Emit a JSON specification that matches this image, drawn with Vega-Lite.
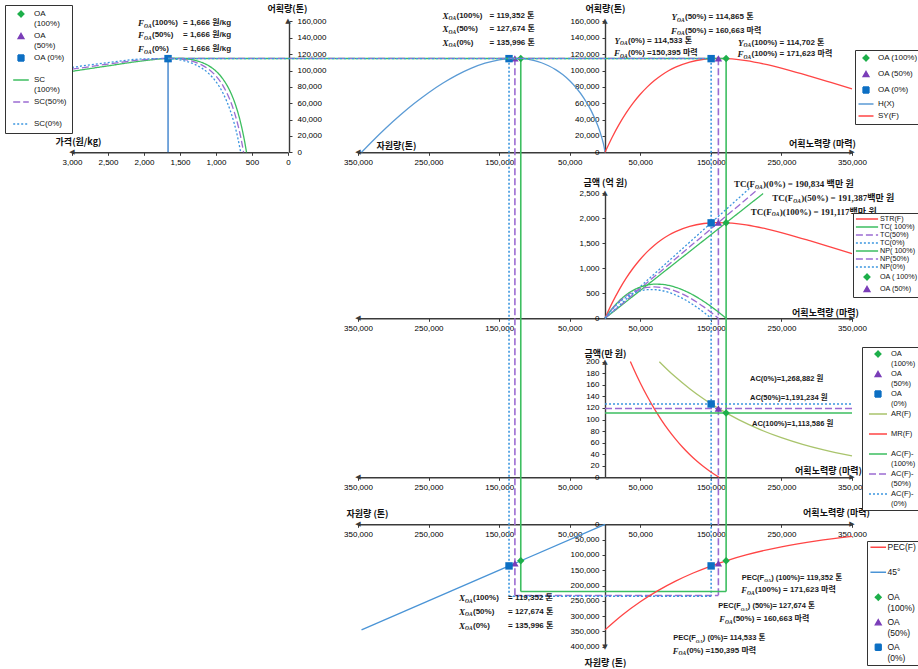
{
"$schema":"https://vega.github.io/schema/vega-lite/v6.json",
"width":918,"height":669,"padding":0,"autosize":{"type":"none"},"background":"white",
"config":{
 "view":{"stroke":null},
 "axis":{"grid":false,"domainColor":"#3a3a3a","domainWidth":1.4,"tickColor":"#3a3a3a","tickSize":3,"tickWidth":1,"labelFont":"Liberation Sans","labelFontSize":8,"labelColor":"#000","labelPadding":3,"labelOverlap":false,"labelFlush":false,"labelBound":false,"titleFont":"Noto Sans CJK KR","titleFontSize":9,"titleFontWeight":"bold","titleColor":"#111","titlePadding":0},
 "legend":{"labelFont":"Liberation Sans","labelColor":"#111","labelFontSize":8,"symbolStrokeWidth":1.3,"strokeColor":"#333","fillColor":"#ffffff"}
},
"datasets":{
 "g1_sc":[
  {"price":3000,"catch":99000,"case":"100%"},{"price":2500,"catch":105660,"case":"100%"},{"price":2000,"catch":112000,"case":"100%"},{"price":1666,"catch":114702,"case":"100%"},{"price":1500,"catch":114800,"case":"100%"},{"price":1300,"catch":112640,"case":"100%"},{"price":1200,"catch":110010,"case":"100%"},{"price":1100,"catch":105780,"case":"100%"},{"price":1000,"catch":99210,"case":"100%"},{"price":900,"catch":89160,"case":"100%"},{"price":800,"catch":73810,"case":"100%"},{"price":750,"catch":63230,"case":"100%"},{"price":700,"catch":49970,"case":"100%"},{"price":650,"catch":33320,"case":"100%"},{"price":600,"catch":12070,"case":"100%"},{"price":576,"catch":0,"case":"100%"},
  {"price":3000,"catch":101575,"case":"50%"},{"price":2500,"catch":107840,"case":"50%"},{"price":2000,"catch":113320,"case":"50%"},{"price":1666,"catch":114865,"case":"50%"},{"price":1500,"catch":114150,"case":"50%"},{"price":1300,"catch":110510,"case":"50%"},{"price":1200,"catch":106880,"case":"50%"},{"price":1100,"catch":101370,"case":"50%"},{"price":1000,"catch":93150,"case":"50%"},{"price":900,"catch":80950,"case":"50%"},{"price":800,"catch":62710,"case":"50%"},{"price":750,"catch":50300,"case":"50%"},{"price":700,"catch":34940,"case":"50%"},{"price":650,"catch":15670,"case":"50%"},{"price":617,"catch":0,"case":"50%"},
  {"price":3000,"catch":103870,"case":"0%"},{"price":2500,"catch":109690,"case":"0%"},{"price":2000,"catch":114230,"case":"0%"},{"price":1666,"catch":114533,"case":"0%"},{"price":1500,"catch":112960,"case":"0%"},{"price":1300,"catch":107760,"case":"0%"},{"price":1200,"catch":103050,"case":"0%"},{"price":1100,"catch":96190,"case":"0%"},{"price":1000,"catch":86260,"case":"0%"},{"price":900,"catch":71820,"case":"0%"},{"price":800,"catch":50590,"case":"0%"},{"price":750,"catch":36320,"case":"0%"},{"price":700,"catch":18700,"case":"0%"},{"price":657,"catch":0,"case":"0%"}
 ],
 "g1_vr":[{"price":1666,"catch":114533,"catch2":0}],
 "g1_oa":[{"price":1666,"catch":114702,"case":"100%"},{"price":1666,"catch":114865,"case":"50%"},{"price":1666,"catch":114533,"case":"0%"}],
 "g1_arrow":[{"price":3000,"catch":0,"glyph":"◀"},{"price":0,"catch":160000,"glyph":"▲"}],
 "g1_ann":[
  {"price":2000,"catch":157740,"a":"F","sub":"OA","b":"(100%)","c":"= 1,666 원/kg"},
  {"price":2000,"catch":143430,"a":"F","sub":"OA","b":"(50%)","c":"= 1,666 원/kg"},
  {"price":2000,"catch":125950,"a":"F","sub":"OA","b":"(0%)","c":"= 1,666 원/kg"}
 ],
 "g2_h":[
  {"stock":0,"catch":0},{"stock":1000,"catch":5290},{"stock":3000,"catch":12890},{"stock":5000,"catch":19168},{"stock":10000,"catch":32060},{"stock":20000,"catch":51570},{"stock":30000,"catch":66340},{"stock":40000,"catch":78030},{"stock":50000,"catch":87460},{"stock":60000,"catch":95010},{"stock":70000,"catch":101090},{"stock":80000,"catch":105870},{"stock":90000,"catch":109490},{"stock":100000,"catch":112130},{"stock":110000,"catch":113850},{"stock":120000,"catch":114740},{"stock":127000,"catch":114920},{"stock":135000,"catch":114690},{"stock":150000,"catch":113120},{"stock":170000,"catch":108940},{"stock":190000,"catch":102630},{"stock":210000,"catch":94400},{"stock":230000,"catch":84430},{"stock":250000,"catch":72910},{"stock":270000,"catch":59920},{"stock":290000,"catch":45610},{"stock":310000,"catch":30030},{"stock":330000,"catch":13280},{"stock":345000,"catch":0}
 ],
 "g2_vl":[{"stock":119352,"catch":114702,"catch2":-537050,"case":"100%"},{"stock":127674,"catch":114865,"catch2":-541940,"case":"50%"},{"stock":135996,"catch":114533,"catch2":-542800,"case":"0%"}],
 "g2_oa":[{"stock":119352,"catch":114702,"case":"100%"},{"stock":127674,"catch":114865,"case":"50%"},{"stock":135996,"catch":114533,"case":"0%"}],
 "g2_arrow":[{"stock":350000,"catch":0,"glyph":"◀"}],
 "g2_ann":[
  {"stock":221760,"catch":166670,"a":"X","sub":"OA","b":"(100%)","c":"= 119,352 톤"},
  {"stock":221760,"catch":150400,"a":"X","sub":"OA","b":"(50%)","c":"= 127,674 톤"},
  {"stock":221760,"catch":134020,"a":"X","sub":"OA","b":"(0%)","c":"= 135,996 톤"}
 ],
 "g3_sy":[
  {"effort":0,"catch":0},{"effort":10000,"catch":18174},{"effort":20000,"catch":34166},{"effort":30000,"catch":48170},{"effort":40000,"catch":60370},{"effort":50000,"catch":70940},{"effort":60000,"catch":80020},{"effort":70000,"catch":87750},{"effort":80000,"catch":94260},{"effort":90000,"catch":99690},{"effort":100000,"catch":104110},{"effort":120000,"catch":110390},{"effort":140000,"catch":113790},{"effort":160000,"catch":114890},{"effort":180000,"catch":114220},{"effort":200000,"catch":112140},{"effort":230000,"catch":107080},{"effort":260000,"catch":100540},{"effort":290000,"catch":93130},{"effort":320000,"catch":85380},{"effort":350000,"catch":77530}
 ],
 "g3_hl":[{"effort":-619240,"effort2":171623,"catch":114702,"case":"100%"},{"effort":-619240,"effort2":160663,"catch":114865,"case":"50%"},{"effort":-619240,"effort2":150395,"catch":114533,"case":"0%"}],
 "g3_vl":[{"effort":171623,"catch":114702,"catch2":-537050,"case":"100%"},{"effort":160663,"catch":114865,"catch2":-541940,"case":"50%"},{"effort":150395,"catch":114533,"catch2":-542800,"case":"0%"}],
 "g3_oa":[{"effort":171623,"catch":114702,"case":"100%"},{"effort":160663,"catch":114865,"case":"50%"},{"effort":150395,"catch":114533,"case":"0%"}],
 "g3_arrow":[{"effort":350000,"catch":0,"glyph":"▶"},{"effort":0,"catch":160000,"glyph":"▲"}],
 "g3_ann":[
  {"effort":102025,"catch":165080,"a":"Y","sub":"OA","b":"(50%) = 114,865 톤"},
  {"effort":102025,"catch":148690,"a":"F","sub":"OA","b":"(50%) = 160,663 마력"},
  {"effort":21255,"catch":136460,"a":"Y","sub":"OA","b":"(0%) = 114,533 톤"},
  {"effort":21255,"catch":121060,"a":"F","sub":"OA","b":"(0%) =150,395 마력"},
  {"effort":196255,"catch":134020,"a":"Y","sub":"OA","b":"(100%) = 114,702 톤"},
  {"effort":196255,"catch":119830,"a":"F","sub":"OA","b":"(100%) = 171,623 마력"}
 ],
 "g4_str":[
  {"effort":0,"amount":0},{"effort":10000,"amount":302.8},{"effort":20000,"amount":569.2},{"effort":30000,"amount":802.5},{"effort":40000,"amount":1005.8},{"effort":50000,"amount":1181.9},{"effort":60000,"amount":1333.1},{"effort":70000,"amount":1461.9},{"effort":80000,"amount":1570.4},{"effort":90000,"amount":1660.8},{"effort":100000,"amount":1734.5},{"effort":120000,"amount":1839.1},{"effort":140000,"amount":1895.7},{"effort":160000,"amount":1914.1},{"effort":180000,"amount":1902.9},{"effort":200000,"amount":1868.3},{"effort":230000,"amount":1784.0},{"effort":260000,"amount":1675.0},{"effort":290000,"amount":1551.5},{"effort":320000,"amount":1422.4},{"effort":350000,"amount":1291.6}
 ],
 "g4_tcnp":[
  {"effort":0,"amount":0,"case":"100%","kind":"TC"},{"effort":224000,"amount":2494,"case":"100%","kind":"TC"},
  {"effort":0,"amount":0,"case":"50%","kind":"TC"},{"effort":217000,"amount":2585,"case":"50%","kind":"TC"},
  {"effort":0,"amount":0,"case":"0%","kind":"TC"},{"effort":210000,"amount":2665,"case":"0%","kind":"TC"},
  {"effort":0,"amount":0,"case":"100%","kind":"NP"},{"effort":10000,"amount":191.4,"case":"100%","kind":"NP"},{"effort":20000,"amount":346.5,"case":"100%","kind":"NP"},{"effort":30000,"amount":468.4,"case":"100%","kind":"NP"},{"effort":40000,"amount":560.4,"case":"100%","kind":"NP"},{"effort":50000,"amount":625.1,"case":"100%","kind":"NP"},{"effort":60000,"amount":664.9,"case":"100%","kind":"NP"},{"effort":70000,"amount":682.4,"case":"100%","kind":"NP"},{"effort":80000,"amount":679.5,"case":"100%","kind":"NP"},{"effort":90000,"amount":658.6,"case":"100%","kind":"NP"},{"effort":100000,"amount":620.9,"case":"100%","kind":"NP"},{"effort":120000,"amount":502.8,"case":"100%","kind":"NP"},{"effort":140000,"amount":336.7,"case":"100%","kind":"NP"},{"effort":160000,"amount":132.3,"case":"100%","kind":"NP"},{"effort":171623,"amount":0,"case":"100%","kind":"NP"},
  {"effort":0,"amount":0,"case":"50%","kind":"NP"},{"effort":10000,"amount":183.7,"case":"50%","kind":"NP"},{"effort":20000,"amount":331.0,"case":"50%","kind":"NP"},{"effort":30000,"amount":445.1,"case":"50%","kind":"NP"},{"effort":40000,"amount":529.3,"case":"50%","kind":"NP"},{"effort":50000,"amount":586.3,"case":"50%","kind":"NP"},{"effort":60000,"amount":618.4,"case":"50%","kind":"NP"},{"effort":70000,"amount":628.1,"case":"50%","kind":"NP"},{"effort":80000,"amount":617.4,"case":"50%","kind":"NP"},{"effort":90000,"amount":588.7,"case":"50%","kind":"NP"},{"effort":100000,"amount":543.3,"case":"50%","kind":"NP"},{"effort":120000,"amount":409.7,"case":"50%","kind":"NP"},{"effort":140000,"amount":228.0,"case":"50%","kind":"NP"},{"effort":160663,"amount":0,"case":"50%","kind":"NP"},
  {"effort":0,"amount":0,"case":"0%","kind":"NP"},{"effort":10000,"amount":175.9,"case":"0%","kind":"NP"},{"effort":20000,"amount":315.4,"case":"0%","kind":"NP"},{"effort":30000,"amount":421.8,"case":"0%","kind":"NP"},{"effort":40000,"amount":498.2,"case":"0%","kind":"NP"},{"effort":50000,"amount":547.4,"case":"0%","kind":"NP"},{"effort":60000,"amount":571.8,"case":"0%","kind":"NP"},{"effort":70000,"amount":573.7,"case":"0%","kind":"NP"},{"effort":80000,"amount":555.3,"case":"0%","kind":"NP"},{"effort":90000,"amount":518.8,"case":"0%","kind":"NP"},{"effort":100000,"amount":465.6,"case":"0%","kind":"NP"},{"effort":120000,"amount":316.4,"case":"0%","kind":"NP"},{"effort":140000,"amount":119.2,"case":"0%","kind":"NP"},{"effort":150395,"amount":0,"case":"0%","kind":"NP"}
 ],
 "g4_oa":[{"effort":171623,"amount":1911.17,"case":"100%"},{"effort":160663,"amount":1913.87,"case":"50%"},{"effort":150395,"amount":1908.34,"case":"0%"}],
 "g4_arrow":[{"effort":350000,"amount":0,"glyph":"▶"},{"effort":0,"amount":2500,"glyph":"▲"}],
 "g4_ann":[
  {"effort":212550,"amount":2686,"a":"TC(F","sub":"OA","b":")(0%) = 190,834 백만 원"},
  {"effort":266820,"amount":2400,"a":"TC(F","sub":"OA","b":")(50%) = 191,387백만 원"},
  {"effort":236210,"amount":2132,"a":"TC(F","sub":"OA","b":")(100%) = 191,117백만 원"}
 ],
 "g4l_arrow":[{"stock":350000,"amount":0,"glyph":"◀"}],
 "g5_avg":[
  {"effort":77000,"amount":200},{"effort":90000,"amount":184.5},{"effort":100000,"amount":173.5},{"effort":120000,"amount":153.3},{"effort":140000,"amount":135.4},{"effort":160000,"amount":119.6},{"effort":171623,"amount":111.4},{"effort":190000,"amount":99.4},{"effort":220000,"amount":82.5},{"effort":250000,"amount":68.5},{"effort":280000,"amount":56.9},{"effort":310000,"amount":47.3},{"effort":350000,"amount":36.9}
 ],
 "g5_mr":[
  {"effort":36000,"amount":200.3},{"effort":40000,"amount":189.2},{"effort":50000,"amount":163.2},{"effort":60000,"amount":139.7},{"effort":70000,"amount":118.4},{"effort":80000,"amount":99.1},{"effort":90000,"amount":81.7},{"effort":100000,"amount":66.1},{"effort":110000,"amount":52.0},{"effort":120000,"amount":39.4},{"effort":130000,"amount":28.1},{"effort":140000,"amount":18.1},{"effort":150000,"amount":9.1},{"effort":161560,"amount":0}
 ],
 "g5_ac":[
  {"effort":0,"amount":111.36,"case":"100%"},{"effort":350000,"amount":111.36,"case":"100%"},
  {"effort":0,"amount":119.12,"case":"50%"},{"effort":350000,"amount":119.12,"case":"50%"},
  {"effort":0,"amount":126.89,"case":"0%"},{"effort":350000,"amount":126.89,"case":"0%"}
 ],
 "g5_oa":[{"effort":171623,"amount":111.36,"case":"100%"},{"effort":160663,"amount":119.12,"case":"50%"},{"effort":150395,"amount":126.89,"case":"0%"}],
 "g5_arrow":[{"effort":350000,"amount":0,"glyph":"▶"},{"effort":0,"amount":200,"glyph":"▲"}],
 "g5_ann":[
  {"effort":205470,"amount":170.1,"t":"AC(0%)=1,268,882  원"},
  {"effort":205470,"amount":137.2,"t":"AC(50%)=1,191,234  원"},
  {"effort":208300,"amount":92.2,"t":"AC(100%)=1,113,586  원"}
 ],
 "g5l_arrow":[{"stock":350000,"amount":0,"glyph":"◀"}],
 "g6_45":[{"stock":0,"level":0},{"stock":345000,"level":345000}],
 "g6_hl":[{"stock":119352,"stock2":-171623,"level":219600,"case":"100%"},{"stock":127674,"stock2":-160663,"level":232680,"case":"50%"},{"stock":135996,"stock2":-150395,"level":234970,"case":"0%"}],
 "g6_oa":[{"stock":119352,"level":119352,"case":"100%"},{"stock":127674,"level":127674,"case":"50%"},{"stock":135996,"level":135996,"case":"0%"}],
 "g6_arrow":[{"stock":350000,"level":0,"glyph":"◀"},{"stock":0,"level":400000,"glyph":"▼"}],
 "g6_ann":[
  {"stock":198380,"level":241830,"a":"X","sub":"OA","b":"(100%)","c":"= 119,352 톤"},
  {"stock":198380,"level":285620,"a":"X","sub":"OA","b":"(50%)","c":"= 127,674 톤"},
  {"stock":198380,"level":332350,"a":"X","sub":"OA","b":"(0%)","c":"= 135,996 톤"}
 ],
 "g7_pec":[
  {"effort":0,"level":345000},{"effort":25000,"level":295530},{"effort":50000,"level":253160},{"effort":75000,"level":216870},{"effort":100000,"level":185780},{"effort":125000,"level":159150},{"effort":150000,"level":136340},{"effort":175000,"level":116790},{"effort":200000,"level":100050},{"effort":250000,"level":73420},{"effort":300000,"level":53870},{"effort":350000,"level":39530}
 ],
 "g7_oa":[{"effort":171623,"level":119352,"case":"100%"},{"effort":160663,"level":127674,"case":"50%"},{"effort":150395,"level":135996,"case":"0%"}],
 "g7_arrow":[{"effort":350000,"level":0,"glyph":"▶"}],
 "g7_ann_pec":[
  {"effort":225590,"level":174510,"a":"PEC(F","sub":"OA","b":") (100%)= 119,352 톤"},
  {"effort":192430,"level":267000,"a":"PEC(F","sub":"OA","b":") (50%)= 127,674 톤"},
  {"effort":128665,"level":372550,"a":"PEC(F","sub":"OA","b":") (0%)= 114,533 톤"}
 ],
 "g7_ann_f":[
  {"effort":201215,"level":214710,"a":"F","sub":"OA","b":"(100%) = 171,623 마력"},
  {"effort":170040,"level":309480,"a":"F","sub":"OA","b":"(50%) = 160,663 마력"},
  {"effort":104150,"level":414050,"a":"F","sub":"OA","b":"(0%) =150,395 마력"}
 ]
},
"layer":[
 {
  "encoding":{
   "x":{"field":"price","type":"quantitative","scale":{"domain":[0,3000],"range":[288,72],"nice":false,"zero":false},"axis":{"orient":"bottom","offset":-516.7,"values":[0,500,1000,1500,2000,2500,3000],"labelExpr":"format(datum.value, ',')","title":"가격(원/kg)","titleX":78,"titleY":-10.6,"titleAlign":"center","titleBaseline":"middle"}},
   "y":{"field":"catch","type":"quantitative","scale":{"domain":[0,160000],"range":[152.3,21.45],"nice":false,"zero":false},"axis":{"orient":"right","offset":-629,"values":[0,20000,40000,60000,80000,100000,120000,140000,160000],"labelExpr":"format(datum.value, ',')","labelPadding":5,"title":"어획량(톤)","titleAngle":0,"titleX":-2,"titleY":8,"titleAlign":"center","titleBaseline":"middle"}}
  },
  "layer":[
   {"data":{"name":"g1_sc"},"mark":{"type":"line","strokeWidth":1.3,"interpolate":"monotone"},"encoding":{"stroke":{"field":"case","type":"nominal","scale":{"domain":["100%","50%","0%"],"range":["#3DBE60","#9C6CD2","#3C96DF"]},"legend":null},"strokeDash":{"field":"case","type":"nominal","scale":{"domain":["100%","50%","0%"],"range":[[1,0],[7,3],[2,2]]},"legend":null}}},
   {"data":{"name":"g1_vr"},"mark":{"type":"rule","color":"#2E78C8","strokeWidth":1.3},"encoding":{"y2":{"field":"catch2"}}},
   {"data":{"name":"g1_oa"},"mark":{"type":"point","filled":true,"size":55,"opacity":1},"encoding":{"fill":{"field":"case","type":"nominal","scale":{"domain":["100%","50%","0%"],"range":["#1DAF4A","#7A3DB8","#0C6FC3"]},"legend":null},"shape":{"field":"case","type":"nominal","scale":{"domain":["100%","50%","0%"],"range":["diamond","triangle-up","square"]},"legend":null}}},
   {"data":{"name":"g1_arrow"},"mark":{"type":"text","fontSize":7,"color":"#3a3a3a","align":"center","baseline":"middle","font":"DejaVu Sans"},"encoding":{"text":{"field":"glyph"}}},
   {"data":{"name":"g1_ann"},"mark":{"type":"text","align":"right","baseline":"middle","font":"Liberation Serif","fontStyle":"italic","fontWeight":"bold","fontSize":9,"color":"#1a1a1a"},"encoding":{"text":{"field":"a"}}},
   {"data":{"name":"g1_ann"},"mark":{"type":"text","align":"left","baseline":"middle","dy":2.5,"font":"Liberation Serif","fontStyle":"italic","fontWeight":"bold","fontSize":5.5,"color":"#1a1a1a"},"encoding":{"text":{"field":"sub"}}},
   {"data":{"name":"g1_ann"},"mark":{"type":"text","align":"left","baseline":"middle","dx":8,"font":"Liberation Sans, Noto Sans CJK KR","fontWeight":"bold","fontSize":8,"color":"#1a1a1a"},"encoding":{"text":{"field":"b"}}},
   {"data":{"name":"g1_ann"},"mark":{"type":"text","align":"left","baseline":"middle","dx":39,"font":"Liberation Sans, Noto Sans CJK KR","fontWeight":"bold","fontSize":8,"color":"#1a1a1a"},"encoding":{"text":{"field":"c"}}}
  ]
 },
 {
  "encoding":{
   "x":{"field":"stock","type":"quantitative","scale":{"domain":[0,350000],"range":[605,358],"nice":false,"zero":false},"axis":{"orient":"bottom","offset":-516.7,"values":[50000,150000,250000,350000],"labelExpr":"format(datum.value, ',')","title":"자원량(톤)","titleX":396,"titleY":-7.3,"titleAlign":"center","titleBaseline":"middle"}},
   "y":{"field":"catch","type":"quantitative","scale":{"domain":[0,160000],"range":[152.3,21.45],"nice":false,"zero":false},"axis":null}
  },
  "layer":[
   {"data":{"name":"g2_h"},"mark":{"type":"line","strokeWidth":1.3,"interpolate":"monotone","color":"#5B9BD5"}},
   {"data":{"name":"g2_vl"},"mark":{"type":"rule","strokeWidth":1.6},"encoding":{"y2":{"field":"catch2"},"stroke":{"field":"case","type":"nominal","scale":{"domain":["100%","50%","0%"],"range":["#3DBE60","#9C6CD2","#3C96DF"]},"legend":null},"strokeDash":{"field":"case","type":"nominal","scale":{"domain":["100%","50%","0%"],"range":[[1,0],[7,3],[2,2]]},"legend":null}}},
   {"data":{"name":"g2_oa"},"mark":{"type":"point","filled":true,"size":55,"opacity":1},"encoding":{"fill":{"field":"case","type":"nominal","scale":{"domain":["100%","50%","0%"],"range":["#1DAF4A","#7A3DB8","#0C6FC3"]},"legend":null},"shape":{"field":"case","type":"nominal","scale":{"domain":["100%","50%","0%"],"range":["diamond","triangle-up","square"]},"legend":null}}},
   {"data":{"name":"g2_arrow"},"mark":{"type":"text","fontSize":7,"color":"#3a3a3a","align":"center","baseline":"middle","font":"DejaVu Sans"},"encoding":{"text":{"field":"glyph"}}},
   {"data":{"name":"g2_ann"},"mark":{"type":"text","align":"right","baseline":"middle","font":"Liberation Serif","fontStyle":"italic","fontWeight":"bold","fontSize":9,"color":"#1a1a1a"},"encoding":{"text":{"field":"a"}}},
   {"data":{"name":"g2_ann"},"mark":{"type":"text","align":"left","baseline":"middle","dy":2.5,"font":"Liberation Serif","fontStyle":"italic","fontWeight":"bold","fontSize":5.5,"color":"#1a1a1a"},"encoding":{"text":{"field":"sub"}}},
   {"data":{"name":"g2_ann"},"mark":{"type":"text","align":"left","baseline":"middle","dx":8,"font":"Liberation Sans, Noto Sans CJK KR","fontWeight":"bold","fontSize":8,"color":"#1a1a1a"},"encoding":{"text":{"field":"b"}}},
   {"data":{"name":"g2_ann"},"mark":{"type":"text","align":"left","baseline":"middle","dx":41,"font":"Liberation Sans, Noto Sans CJK KR","fontWeight":"bold","fontSize":8,"color":"#1a1a1a"},"encoding":{"text":{"field":"c"}}}
  ]
 },
 {
  "encoding":{
   "x":{"field":"effort","type":"quantitative","scale":{"domain":[0,350000],"range":[605,852],"nice":false,"zero":false},"axis":{"orient":"bottom","offset":-516.7,"values":[50000,150000,250000,350000],"labelExpr":"format(datum.value, ',')","title":"어획노력량 (마력)","titleX":822,"titleY":-9,"titleAlign":"center","titleBaseline":"middle"}},
   "y":{"field":"catch","type":"quantitative","scale":{"domain":[0,160000],"range":[152.3,21.45],"nice":false,"zero":false},"axis":{"orient":"left","offset":-605,"values":[0,20000,40000,60000,80000,100000,120000,140000,160000],"labelExpr":"format(datum.value, ',')","title":"어획량(톤)","titleAngle":0,"titleX":0,"titleY":8,"titleAlign":"center","titleBaseline":"middle"}}
  },
  "layer":[
   {"data":{"name":"g3_sy"},"mark":{"type":"line","strokeWidth":1.3,"interpolate":"monotone","color":"#FF4545"}},
   {"data":{"name":"g3_hl"},"mark":{"type":"rule","strokeWidth":1.4},"encoding":{"x2":{"field":"effort2"},"stroke":{"field":"case","type":"nominal","scale":{"domain":["100%","50%","0%"],"range":["#3DBE60","#9C6CD2","#3C96DF"]},"legend":null},"strokeDash":{"field":"case","type":"nominal","scale":{"domain":["100%","50%","0%"],"range":[[1,0],[7,3],[2,2]]},"legend":null}}},
   {"data":{"name":"g3_vl"},"mark":{"type":"rule","strokeWidth":1.6},"encoding":{"y2":{"field":"catch2"},"stroke":{"field":"case","type":"nominal","scale":{"domain":["100%","50%","0%"],"range":["#3DBE60","#9C6CD2","#3C96DF"]},"legend":null},"strokeDash":{"field":"case","type":"nominal","scale":{"domain":["100%","50%","0%"],"range":[[1,0],[7,3],[2,2]]},"legend":null}}},
   {"data":{"name":"g3_oa"},"mark":{"type":"point","filled":true,"size":55,"opacity":1},"encoding":{"fill":{"field":"case","type":"nominal","scale":{"domain":["100%","50%","0%"],"range":["#1DAF4A","#7A3DB8","#0C6FC3"]},"legend":null},"shape":{"field":"case","type":"nominal","scale":{"domain":["100%","50%","0%"],"range":["diamond","triangle-up","square"]},"legend":null}}},
   {"data":{"name":"g3_arrow"},"mark":{"type":"text","fontSize":7,"color":"#3a3a3a","align":"center","baseline":"middle","font":"DejaVu Sans"},"encoding":{"text":{"field":"glyph"}}},
   {"data":{"name":"g3_ann"},"mark":{"type":"text","align":"right","baseline":"middle","font":"Liberation Serif","fontStyle":"italic","fontWeight":"bold","fontSize":9,"color":"#1a1a1a"},"encoding":{"text":{"field":"a"}}},
   {"data":{"name":"g3_ann"},"mark":{"type":"text","align":"left","baseline":"middle","dy":2.5,"font":"Liberation Serif","fontStyle":"italic","fontWeight":"bold","fontSize":5.5,"color":"#1a1a1a"},"encoding":{"text":{"field":"sub"}}},
   {"data":{"name":"g3_ann"},"mark":{"type":"text","align":"left","baseline":"middle","dx":8,"font":"Liberation Sans, Noto Sans CJK KR","fontWeight":"bold","fontSize":8,"color":"#1a1a1a"},"encoding":{"text":{"field":"b"}}}
  ]
 },
 {
  "encoding":{
   "x":{"field":"effort","type":"quantitative","scale":{"domain":[0,350000],"range":[605,852],"nice":false,"zero":false},"axis":{"orient":"bottom","offset":-350.7,"values":[50000,150000,250000,350000],"labelExpr":"format(datum.value, ',')","title":"어획노력량 (마력)","titleX":825,"titleY":-6,"titleAlign":"center","titleBaseline":"middle"}},
   "y":{"field":"amount","type":"quantitative","scale":{"domain":[0,2500],"range":[318.3,193.3],"nice":false,"zero":false},"axis":{"orient":"left","offset":-605,"values":[0,500,1000,1500,2000,2500],"labelExpr":"format(datum.value, ',')","title":"금액 (억 원)","titleAngle":0,"titleX":0,"titleY":182,"titleAlign":"center","titleBaseline":"middle"}}
  },
  "layer":[
   {"data":{"name":"g4_str"},"mark":{"type":"line","strokeWidth":1.3,"interpolate":"monotone","color":"#FF4545"}},
   {"data":{"name":"g4_tcnp"},"mark":{"type":"line","strokeWidth":1.3,"interpolate":"monotone"},"encoding":{"detail":{"field":"kind"},"stroke":{"field":"case","type":"nominal","scale":{"domain":["100%","50%","0%"],"range":["#3DBE60","#9C6CD2","#3C96DF"]},"legend":null},"strokeDash":{"field":"case","type":"nominal","scale":{"domain":["100%","50%","0%"],"range":[[1,0],[7,3],[2,2]]},"legend":null}}},
   {"data":{"name":"g4_oa"},"mark":{"type":"point","filled":true,"size":55,"opacity":1},"encoding":{"fill":{"field":"case","type":"nominal","scale":{"domain":["100%","50%","0%"],"range":["#1DAF4A","#7A3DB8","#0C6FC3"]},"legend":null},"shape":{"field":"case","type":"nominal","scale":{"domain":["100%","50%","0%"],"range":["diamond","triangle-up","square"]},"legend":null}}},
   {"data":{"name":"g4_arrow"},"mark":{"type":"text","fontSize":7,"color":"#3a3a3a","align":"center","baseline":"middle","font":"DejaVu Sans"},"encoding":{"text":{"field":"glyph"}}},
   {"data":{"name":"g4_ann"},"mark":{"type":"text","align":"right","baseline":"middle","font":"Liberation Serif","fontWeight":"bold","fontSize":9,"color":"#1a1a1a"},"encoding":{"text":{"field":"a"}}},
   {"data":{"name":"g4_ann"},"mark":{"type":"text","align":"left","baseline":"middle","dy":2.5,"font":"Liberation Serif","fontStyle":"italic","fontWeight":"bold","fontSize":5.5,"color":"#1a1a1a"},"encoding":{"text":{"field":"sub"}}},
   {"data":{"name":"g4_ann"},"mark":{"type":"text","align":"left","baseline":"middle","dx":8,"font":"Liberation Serif, Noto Sans CJK KR","fontWeight":"bold","fontSize":9,"color":"#1a1a1a"},"encoding":{"text":{"field":"b"}}}
  ]
 },
 {
  "encoding":{
   "x":{"field":"stock","type":"quantitative","scale":{"domain":[0,350000],"range":[605,358],"nice":false,"zero":false},"axis":{"orient":"bottom","offset":-350.7,"values":[50000,150000,250000,350000],"labelExpr":"format(datum.value, ',')","title":null}},
   "y":{"field":"amount","type":"quantitative","scale":{"domain":[0,2500],"range":[318.3,193.3],"nice":false,"zero":false},"axis":null}
  },
  "layer":[
   {"data":{"name":"g4l_arrow"},"mark":{"type":"text","fontSize":7,"color":"#3a3a3a","align":"center","baseline":"middle","font":"DejaVu Sans"},"encoding":{"text":{"field":"glyph"}}}
  ]
 },
 {
  "encoding":{
   "x":{"field":"effort","type":"quantitative","scale":{"domain":[0,350000],"range":[605,852],"nice":false,"zero":false},"axis":{"orient":"bottom","offset":-191.7,"values":[50000,150000,250000,350000],"labelExpr":"format(datum.value, ',')","title":"어획노력량 (마력)","titleX":828,"titleY":-6.5,"titleAlign":"center","titleBaseline":"middle"}},
   "y":{"field":"amount","type":"quantitative","scale":{"domain":[0,200],"range":[477.3,361.7],"nice":false,"zero":false},"axis":{"orient":"left","offset":-605,"values":[0,20,40,60,80,100,120,140,160,180,200],"labelExpr":"format(datum.value, ',')","title":"금액(만 원)","titleAngle":0,"titleX":0,"titleY":353,"titleAlign":"center","titleBaseline":"middle"}}
  },
  "layer":[
   {"data":{"name":"g5_avg"},"mark":{"type":"line","strokeWidth":1.3,"interpolate":"monotone","color":"#A9C46C"}},
   {"data":{"name":"g5_mr"},"mark":{"type":"line","strokeWidth":1.3,"interpolate":"monotone","color":"#FF4545"}},
   {"data":{"name":"g5_ac"},"mark":{"type":"line","strokeWidth":1.4},"encoding":{"stroke":{"field":"case","type":"nominal","scale":{"domain":["100%","50%","0%"],"range":["#3DBE60","#9C6CD2","#3C96DF"]},"legend":null},"strokeDash":{"field":"case","type":"nominal","scale":{"domain":["100%","50%","0%"],"range":[[1,0],[7,3],[2,2]]},"legend":null}}},
   {"data":{"name":"g5_oa"},"mark":{"type":"point","filled":true,"size":55,"opacity":1},"encoding":{"fill":{"field":"case","type":"nominal","scale":{"domain":["100%","50%","0%"],"range":["#1DAF4A","#7A3DB8","#0C6FC3"]},"legend":null},"shape":{"field":"case","type":"nominal","scale":{"domain":["100%","50%","0%"],"range":["diamond","triangle-up","square"]},"legend":null}}},
   {"data":{"name":"g5_arrow"},"mark":{"type":"text","fontSize":7,"color":"#3a3a3a","align":"center","baseline":"middle","font":"DejaVu Sans"},"encoding":{"text":{"field":"glyph"}}},
   {"data":{"name":"g5_ann"},"mark":{"type":"text","align":"left","baseline":"middle","font":"Liberation Sans, Noto Sans CJK KR","fontWeight":"bold","fontSize":7.5,"color":"#1a1a1a"},"encoding":{"text":{"field":"t"}}}
  ]
 },
 {
  "encoding":{
   "x":{"field":"stock","type":"quantitative","scale":{"domain":[0,350000],"range":[605,358],"nice":false,"zero":false},"axis":{"orient":"bottom","offset":-191.7,"values":[50000,150000,250000,350000],"labelExpr":"format(datum.value, ',')","title":null}},
   "y":{"field":"amount","type":"quantitative","scale":{"domain":[0,200],"range":[477.3,361.7],"nice":false,"zero":false},"axis":null}
  },
  "layer":[
   {"data":{"name":"g5l_arrow"},"mark":{"type":"text","fontSize":7,"color":"#3a3a3a","align":"center","baseline":"middle","font":"DejaVu Sans"},"encoding":{"text":{"field":"glyph"}}}
  ]
 },
 {
  "encoding":{
   "x":{"field":"stock","type":"quantitative","scale":{"domain":[0,350000],"range":[605,358],"nice":false,"zero":false},"axis":{"orient":"bottom","offset":-144.7,"values":[50000,150000,250000,350000],"labelExpr":"format(datum.value, ',')","title":"자원량 (톤)","titleX":367,"titleY":-11,"titleAlign":"center","titleBaseline":"middle"}},
   "y":{"field":"level","type":"quantitative","scale":{"domain":[0,400000],"range":[524.3,646.7],"nice":false,"zero":false},"axis":{"orient":"left","offset":-605,"values":[0,50000,100000,150000,200000,250000,300000,350000,400000],"labelExpr":"format(datum.value, ',')","title":"자원량 (톤)","titleAngle":0,"titleX":0,"titleY":662,"titleAlign":"center","titleBaseline":"middle"}}
  },
  "layer":[
   {"data":{"name":"g6_45"},"mark":{"type":"line","strokeWidth":1.3,"color":"#4A94D6"}},
   {"data":{"name":"g6_hl"},"mark":{"type":"rule","strokeWidth":1.6},"encoding":{"x2":{"field":"stock2"},"stroke":{"field":"case","type":"nominal","scale":{"domain":["100%","50%","0%"],"range":["#3DBE60","#9C6CD2","#3C96DF"]},"legend":null},"strokeDash":{"field":"case","type":"nominal","scale":{"domain":["100%","50%","0%"],"range":[[1,0],[7,3],[2,2]]},"legend":null}}},
   {"data":{"name":"g6_oa"},"mark":{"type":"point","filled":true,"size":55,"opacity":1},"encoding":{"fill":{"field":"case","type":"nominal","scale":{"domain":["100%","50%","0%"],"range":["#1DAF4A","#7A3DB8","#0C6FC3"]},"legend":null},"shape":{"field":"case","type":"nominal","scale":{"domain":["100%","50%","0%"],"range":["diamond","triangle-up","square"]},"legend":null}}},
   {"data":{"name":"g6_arrow"},"mark":{"type":"text","fontSize":7,"color":"#3a3a3a","align":"center","baseline":"middle","font":"DejaVu Sans"},"encoding":{"text":{"field":"glyph"}}},
   {"data":{"name":"g6_ann"},"mark":{"type":"text","align":"right","baseline":"middle","font":"Liberation Serif","fontStyle":"italic","fontWeight":"bold","fontSize":9,"color":"#1a1a1a"},"encoding":{"text":{"field":"a"}}},
   {"data":{"name":"g6_ann"},"mark":{"type":"text","align":"left","baseline":"middle","dy":2.5,"font":"Liberation Serif","fontStyle":"italic","fontWeight":"bold","fontSize":5.5,"color":"#1a1a1a"},"encoding":{"text":{"field":"sub"}}},
   {"data":{"name":"g6_ann"},"mark":{"type":"text","align":"left","baseline":"middle","dx":8,"font":"Liberation Sans, Noto Sans CJK KR","fontWeight":"bold","fontSize":8,"color":"#1a1a1a"},"encoding":{"text":{"field":"b"}}},
   {"data":{"name":"g6_ann"},"mark":{"type":"text","align":"left","baseline":"middle","dx":43,"font":"Liberation Sans, Noto Sans CJK KR","fontWeight":"bold","fontSize":8,"color":"#1a1a1a"},"encoding":{"text":{"field":"c"}}}
  ]
 },
 {
  "encoding":{
   "x":{"field":"effort","type":"quantitative","scale":{"domain":[0,350000],"range":[605,852],"nice":false,"zero":false},"axis":{"orient":"bottom","offset":-144.7,"values":[50000,150000,250000,350000],"labelExpr":"format(datum.value, ',')","title":"어획노력량 (마력)","titleX":836,"titleY":-12,"titleAlign":"center","titleBaseline":"middle"}},
   "y":{"field":"level","type":"quantitative","scale":{"domain":[0,400000],"range":[524.3,646.7],"nice":false,"zero":false},"axis":null}
  },
  "layer":[
   {"data":{"name":"g7_pec"},"mark":{"type":"line","strokeWidth":1.3,"interpolate":"monotone","color":"#FF4545"}},
   {"data":{"name":"g7_oa"},"mark":{"type":"point","filled":true,"size":55,"opacity":1},"encoding":{"fill":{"field":"case","type":"nominal","scale":{"domain":["100%","50%","0%"],"range":["#1DAF4A","#7A3DB8","#0C6FC3"]},"legend":null},"shape":{"field":"case","type":"nominal","scale":{"domain":["100%","50%","0%"],"range":["diamond","triangle-up","square"]},"legend":null}}},
   {"data":{"name":"g7_arrow"},"mark":{"type":"text","fontSize":7,"color":"#3a3a3a","align":"center","baseline":"middle","font":"DejaVu Sans"},"encoding":{"text":{"field":"glyph"}}},
   {"data":{"name":"g7_ann_pec"},"mark":{"type":"text","align":"right","baseline":"middle","font":"Liberation Sans","fontWeight":"bold","fontSize":7.5,"color":"#1a1a1a"},"encoding":{"text":{"field":"a"}}},
   {"data":{"name":"g7_ann_pec"},"mark":{"type":"text","align":"left","baseline":"middle","dy":2.5,"font":"Liberation Serif","fontStyle":"italic","fontWeight":"bold","fontSize":5,"color":"#1a1a1a"},"encoding":{"text":{"field":"sub"}}},
   {"data":{"name":"g7_ann_pec"},"mark":{"type":"text","align":"left","baseline":"middle","dx":7,"font":"Liberation Sans, Noto Sans CJK KR","fontWeight":"bold","fontSize":7.5,"color":"#1a1a1a"},"encoding":{"text":{"field":"b"}}},
   {"data":{"name":"g7_ann_f"},"mark":{"type":"text","align":"right","baseline":"middle","font":"Liberation Serif","fontStyle":"italic","fontWeight":"bold","fontSize":8.5,"color":"#1a1a1a"},"encoding":{"text":{"field":"a"}}},
   {"data":{"name":"g7_ann_f"},"mark":{"type":"text","align":"left","baseline":"middle","dy":2.5,"font":"Liberation Serif","fontStyle":"italic","fontWeight":"bold","fontSize":5.5,"color":"#1a1a1a"},"encoding":{"text":{"field":"sub"}}},
   {"data":{"name":"g7_ann_f"},"mark":{"type":"text","align":"left","baseline":"middle","dx":8,"font":"Liberation Sans, Noto Sans CJK KR","fontWeight":"bold","fontSize":8,"color":"#1a1a1a"},"encoding":{"text":{"field":"b"}}}
  ]
 },
 {
  "data":{"values":[]},"mark":{"type":"point","filled":true,"opacity":1},
  "encoding":{
   "fill":{"field":"series","type":"nominal","scale":{"domain":["OA|(100%)","OA|(50%)","OA (0%)","SC|(100%)","SC(50%)","SC(0%)"],"range":["#1DAF4A","#7A3DB8","#0C6FC3","#3DBE60","#9C6CD2","#3C96DF"]},"legend":{"title":null,"orient":"none","legendX":5,"legendY":5,"padding":5,"rowPadding":2,"gridAlign":"all","symbolSize":36,"symbolOffset":7,"labelOffset":9,"labelExpr":"split(datum.label, '|')","labelFontSize":8}},
   "stroke":{"field":"series","type":"nominal","scale":{"domain":["OA|(100%)","OA|(50%)","OA (0%)","SC|(100%)","SC(50%)","SC(0%)"],"range":["#1DAF4A","#7A3DB8","#0C6FC3","#3DBE60","#9C6CD2","#3C96DF"]},"legend":{"title":null,"orient":"none","legendX":5,"legendY":5,"padding":5,"rowPadding":2,"gridAlign":"all","symbolSize":36,"symbolOffset":7,"labelOffset":9,"labelExpr":"split(datum.label, '|')","labelFontSize":8}},
   "shape":{"field":"series","type":"nominal","scale":{"domain":["OA|(100%)","OA|(50%)","OA (0%)","SC|(100%)","SC(50%)","SC(0%)"],"range":["diamond","triangle-up","square","M-2.6,0H2.6","M-2.6,0H2.6","M-2.6,0H2.6"]},"legend":{"title":null,"orient":"none","legendX":5,"legendY":5,"padding":5,"rowPadding":2,"gridAlign":"all","symbolSize":36,"symbolOffset":7,"labelOffset":9,"labelExpr":"split(datum.label, '|')","labelFontSize":8}},
   "strokeDash":{"field":"series","type":"nominal","scale":{"domain":["OA|(100%)","OA|(50%)","OA (0%)","SC|(100%)","SC(50%)","SC(0%)"],"range":[[1,0],[1,0],[1,0],[1,0],[7,3],[2,2]]},"legend":{"title":null,"orient":"none","legendX":5,"legendY":5,"padding":5,"rowPadding":2,"gridAlign":"all","symbolSize":36,"symbolOffset":7,"labelOffset":9,"labelExpr":"split(datum.label, '|')","labelFontSize":8}}
  }
 },
 {
  "data":{"values":[]},"mark":{"type":"point","filled":true,"opacity":1},
  "encoding":{
   "fill":{"field":"series","type":"nominal","scale":{"domain":["OA (100%)","OA (50%)","OA (0%)","H(X)","SY(F)"],"range":["#1DAF4A","#7A3DB8","#0C6FC3","#5B9BD5","#FF4545"]},"legend":{"title":null,"orient":"none","legendX":855,"legendY":50,"padding":4,"rowPadding":4,"symbolSize":36,"symbolOffset":3,"labelOffset":8,"labelFontSize":8}},
   "stroke":{"field":"series","type":"nominal","scale":{"domain":["OA (100%)","OA (50%)","OA (0%)","H(X)","SY(F)"],"range":["#1DAF4A","#7A3DB8","#0C6FC3","#5B9BD5","#FF4545"]},"legend":{"title":null,"orient":"none","legendX":855,"legendY":50,"padding":4,"rowPadding":4,"symbolSize":36,"symbolOffset":3,"labelOffset":8,"labelFontSize":8}},
   "shape":{"field":"series","type":"nominal","scale":{"domain":["OA (100%)","OA (50%)","OA (0%)","H(X)","SY(F)"],"range":["diamond","triangle-up","square","M-2.5,0H2.5","M-2.5,0H2.5"]},"legend":{"title":null,"orient":"none","legendX":855,"legendY":50,"padding":4,"rowPadding":4,"symbolSize":36,"symbolOffset":3,"labelOffset":8,"labelFontSize":8}},
   "strokeDash":{"field":"series","type":"nominal","scale":{"domain":["OA (100%)","OA (50%)","OA (0%)","H(X)","SY(F)"],"range":[[1,0],[1,0],[1,0],[1,0],[1,0]]},"legend":{"title":null,"orient":"none","legendX":855,"legendY":50,"padding":4,"rowPadding":4,"symbolSize":36,"symbolOffset":3,"labelOffset":8,"labelFontSize":8}}
  }
 },
 {
  "data":{"values":[]},"mark":{"type":"point","filled":true,"opacity":1},
  "encoding":{
   "fill":{"field":"series","type":"nominal","scale":{"domain":["STR(F)","TC( 100%)","TC(50%)","TC(0%)","NP( 100%)","NP(50%)","NP(0%)","OA ( 100%)","OA (50%)"],"range":["#FF4545","#3DBE60","#9C6CD2","#3C96DF","#3DBE60","#9C6CD2","#3C96DF","#1DAF4A","#7A3DB8"]},"legend":{"title":null,"orient":"none","legendX":853,"legendY":213,"padding":2,"rowPadding":0,"symbolSize":36,"symbolOffset":8,"labelOffset":9,"labelFontSize":7.2}},
   "stroke":{"field":"series","type":"nominal","scale":{"domain":["STR(F)","TC( 100%)","TC(50%)","TC(0%)","NP( 100%)","NP(50%)","NP(0%)","OA ( 100%)","OA (50%)"],"range":["#FF4545","#3DBE60","#9C6CD2","#3C96DF","#3DBE60","#9C6CD2","#3C96DF","#1DAF4A","#7A3DB8"]},"legend":{"title":null,"orient":"none","legendX":853,"legendY":213,"padding":2,"rowPadding":0,"symbolSize":36,"symbolOffset":8,"labelOffset":9,"labelFontSize":7.2}},
   "shape":{"field":"series","type":"nominal","scale":{"domain":["STR(F)","TC( 100%)","TC(50%)","TC(0%)","NP( 100%)","NP(50%)","NP(0%)","OA ( 100%)","OA (50%)"],"range":["M-3.7,0H3.7","M-3.7,0H3.7","M-3.7,0H3.7","M-3.7,0H3.7","M-3.7,0H3.7","M-3.7,0H3.7","M-3.7,0H3.7","diamond","triangle-up"]},"legend":{"title":null,"orient":"none","legendX":853,"legendY":213,"padding":2,"rowPadding":0,"symbolSize":36,"symbolOffset":8,"labelOffset":9,"labelFontSize":7.2}},
   "strokeDash":{"field":"series","type":"nominal","scale":{"domain":["STR(F)","TC( 100%)","TC(50%)","TC(0%)","NP( 100%)","NP(50%)","NP(0%)","OA ( 100%)","OA (50%)"],"range":[[1,0],[1,0],[7,3],[2,2],[1,0],[7,3],[2,2],[1,0],[1,0]]},"legend":{"title":null,"orient":"none","legendX":853,"legendY":213,"padding":2,"rowPadding":0,"symbolSize":36,"symbolOffset":8,"labelOffset":9,"labelFontSize":7.2}}
  }
 },
 {
  "data":{"values":[]},"mark":{"type":"point","filled":true,"opacity":1},
  "encoding":{
   "fill":{"field":"series","type":"nominal","scale":{"domain":["OA|(100%)","OA|(50%)","OA|(0%)","AR(F)","MR(F)","AC(F)-|(100%)","AC(F)-|(50%)","AC(F)-|(0%)"],"range":["#1DAF4A","#7A3DB8","#0C6FC3","#A9C46C","#FF4545","#3DBE60","#9C6CD2","#3C96DF"]},"legend":{"title":null,"orient":"none","legendX":862,"legendY":347,"padding":3,"rowPadding":1,"gridAlign":"all","symbolSize":36,"symbolOffset":9,"labelOffset":9,"labelExpr":"split(datum.label, '|')","labelFontSize":7.5}},
   "stroke":{"field":"series","type":"nominal","scale":{"domain":["OA|(100%)","OA|(50%)","OA|(0%)","AR(F)","MR(F)","AC(F)-|(100%)","AC(F)-|(50%)","AC(F)-|(0%)"],"range":["#1DAF4A","#7A3DB8","#0C6FC3","#A9C46C","#FF4545","#3DBE60","#9C6CD2","#3C96DF"]},"legend":{"title":null,"orient":"none","legendX":862,"legendY":347,"padding":3,"rowPadding":1,"gridAlign":"all","symbolSize":36,"symbolOffset":9,"labelOffset":9,"labelExpr":"split(datum.label, '|')","labelFontSize":7.5}},
   "shape":{"field":"series","type":"nominal","scale":{"domain":["OA|(100%)","OA|(50%)","OA|(0%)","AR(F)","MR(F)","AC(F)-|(100%)","AC(F)-|(50%)","AC(F)-|(0%)"],"range":["diamond","triangle-up","square","M-3,0H3","M-3,0H3","M-3,0H3","M-3,0H3","M-3,0H3"]},"legend":{"title":null,"orient":"none","legendX":862,"legendY":347,"padding":3,"rowPadding":1,"gridAlign":"all","symbolSize":36,"symbolOffset":9,"labelOffset":9,"labelExpr":"split(datum.label, '|')","labelFontSize":7.5}},
   "strokeDash":{"field":"series","type":"nominal","scale":{"domain":["OA|(100%)","OA|(50%)","OA|(0%)","AR(F)","MR(F)","AC(F)-|(100%)","AC(F)-|(50%)","AC(F)-|(0%)"],"range":[[1,0],[1,0],[1,0],[1,0],[1,0],[1,0],[7,3],[2,2]]},"legend":{"title":null,"orient":"none","legendX":862,"legendY":347,"padding":3,"rowPadding":1,"gridAlign":"all","symbolSize":36,"symbolOffset":9,"labelOffset":9,"labelExpr":"split(datum.label, '|')","labelFontSize":7.5}}
  }
 },
 {
  "data":{"values":[]},"mark":{"type":"point","filled":true,"opacity":1},
  "encoding":{
   "fill":{"field":"series","type":"nominal","scale":{"domain":["PEC(F)","45°","OA|(100%)","OA|(50%)","OA|(0%)"],"range":["#FF4545","#4A94D6","#1DAF4A","#7A3DB8","#0C6FC3"]},"legend":{"title":null,"orient":"none","legendX":867,"legendY":541,"padding":2,"rowPadding":3,"gridAlign":"all","symbolSize":36,"symbolOffset":5,"labelOffset":5,"labelExpr":"split(datum.label, '|')","labelFontSize":8.5}},
   "stroke":{"field":"series","type":"nominal","scale":{"domain":["PEC(F)","45°","OA|(100%)","OA|(50%)","OA|(0%)"],"range":["#FF4545","#4A94D6","#1DAF4A","#7A3DB8","#0C6FC3"]},"legend":{"title":null,"orient":"none","legendX":867,"legendY":541,"padding":2,"rowPadding":3,"gridAlign":"all","symbolSize":36,"symbolOffset":5,"labelOffset":5,"labelExpr":"split(datum.label, '|')","labelFontSize":8.5}},
   "shape":{"field":"series","type":"nominal","scale":{"domain":["PEC(F)","45°","OA|(100%)","OA|(50%)","OA|(0%)"],"range":["M-2.6,0H2.6","M-2.6,0H2.6","diamond","triangle-up","square"]},"legend":{"title":null,"orient":"none","legendX":867,"legendY":541,"padding":2,"rowPadding":3,"gridAlign":"all","symbolSize":36,"symbolOffset":5,"labelOffset":5,"labelExpr":"split(datum.label, '|')","labelFontSize":8.5}},
   "strokeDash":{"field":"series","type":"nominal","scale":{"domain":["PEC(F)","45°","OA|(100%)","OA|(50%)","OA|(0%)"],"range":[[1,0],[1,0],[1,0],[1,0],[1,0]]},"legend":{"title":null,"orient":"none","legendX":867,"legendY":541,"padding":2,"rowPadding":3,"gridAlign":"all","symbolSize":36,"symbolOffset":5,"labelOffset":5,"labelExpr":"split(datum.label, '|')","labelFontSize":8.5}}
  }
 }
],
"resolve":{"scale":{"x":"independent","y":"independent","fill":"independent","stroke":"independent","shape":"independent","strokeDash":"independent"}}
}
